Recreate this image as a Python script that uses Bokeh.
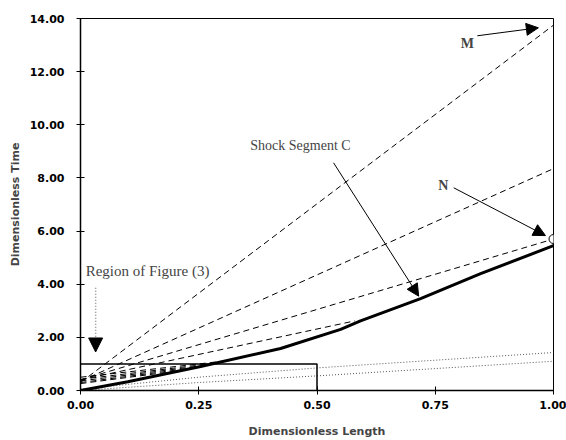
from bokeh.plotting import figure
from bokeh.models import Range1d, FixedTicker, NumeralTickFormatter, Label, Arrow, NormalHead
from bokeh.embed import file_html
from bokeh.resources import INLINE

# ---- data ----
x_ticks = [0.0, 0.25, 0.5, 0.75, 1.0]
y_ticks = [0, 2, 4, 6, 8, 10, 12, 14]

# shock path (thick solid)
shock_x = [0.0, 0.10, 0.254, 0.423, 0.55, 0.592, 0.719, 0.846, 1.0]
shock_y = [0.0, 0.33, 0.90, 1.58, 2.30, 2.62, 3.46, 4.40, 5.45]

# dashed characteristics: start/end points
char_x0 = [0.0, 0.0, 0.0, 0.0, 0.0, 0.0, 0.0, 0.0, 0.0]
char_y0 = [0.30, 0.35, 0.40, 0.40, 0.50, 0.42, 0.36, 0.30, 0.26]
char_x1 = [1.0, 1.0, 1.0, 0.58, 0.31, 0.29, 0.27, 0.25, 0.22]
char_y1 = [13.75, 8.35, 5.70, 2.62, 1.12, 1.04, 0.96, 0.88, 0.77]

# dotted lines
dotA_x = [0.0, 0.25, 0.5, 1.0]
dotA_y = [0.0, 0.30, 0.55, 1.10]
dotB_x = [0.0, 0.25, 0.5, 1.0]
dotB_y = [0.05, 0.50, 0.85, 1.43]

# region box
box_x = [0.0, 0.5, 0.5]
box_y = [1.0, 1.0, 0.0]

# point N
pt_x = [1.0]
pt_y = [5.70]

p = figure(width=566, height=440, x_range=Range1d(0, 1), y_range=Range1d(0, 14),
           output_backend="svg", toolbar_location=None,
           min_border_left=80, min_border_right=13, min_border_top=18, min_border_bottom=50)
p.grid.visible = False
p.outline_line_color = "black"
p.outline_line_width = 1
p.background_fill_color = "white"
p.border_fill_color = "white"

for ax in (p.xaxis, p.yaxis):
    ax.formatter = NumeralTickFormatter(format="0.00")
    ax.major_label_text_font = "DejaVu Sans"
    ax.major_label_text_font_style = "bold"
    ax.major_label_text_font_size = "11px"
    ax.major_label_text_color = "black"
    ax.axis_label_text_font = "DejaVu Sans"
    ax.axis_label_text_font_style = "bold"
    ax.axis_label_text_font_size = "11px"
    ax.axis_line_width = 1.5
    ax.axis_line_color = "black"
    ax.major_tick_in = 4
    ax.major_tick_out = 4
    ax.major_tick_line_color = "black"
    ax.minor_tick_line_color = None

p.xaxis.ticker = FixedTicker(ticks=x_ticks)
p.yaxis.ticker = FixedTicker(ticks=y_ticks)
p.xaxis.axis_label = "Dimensionless Length"
p.yaxis.axis_label = "Dimensionless Time"
p.xaxis.major_label_standoff = 6
p.xaxis.axis_label_standoff = 13
p.yaxis.major_label_standoff = 12
p.yaxis.axis_label_standoff = 5

# dotted lines
p.line(dotA_x, dotA_y, line_color="#555555", line_width=1, line_dash="1 2")
p.line(dotB_x, dotB_y, line_color="#555555", line_width=1, line_dash="1 2")

# dashed characteristics
for i in range(len(char_x0)):
    p.line([char_x0[i], char_x1[i]], [char_y0[i], char_y1[i]],
           line_color="black", line_width=1, line_dash="6 4")

# box
p.line(box_x, box_y, line_color="black", line_width=1.5)

# shock
p.line(shock_x, shock_y, line_color="black", line_width=3)

# point
p.scatter(pt_x, pt_y, marker="circle", size=9, fill_color="white", line_color="black", line_width=1)

# annotations
serif = "Liberation Serif"
p.add_layout(Label(x=0.359, y=9.21, text="Shock Segment C", text_font=serif,
                   text_font_size="14px", text_baseline="middle", text_align="left"))
p.add_layout(Label(x=0.011, y=4.51, text="Region of Figure (3)", text_font=serif,
                   text_font_size="15px", text_baseline="middle", text_align="left"))
p.add_layout(Label(x=0.818, y=13.05, text="M", text_font=serif, text_font_style="bold",
                   text_font_size="14px", text_baseline="middle", text_align="center"))
p.add_layout(Label(x=0.767, y=7.71, text="N", text_font=serif, text_font_style="bold",
                   text_font_size="14px", text_baseline="middle", text_align="center"))

def head(sz):
    return NormalHead(size=sz, fill_color="black", line_color="black")

p.add_layout(Arrow(end=head(12), x_start=0.839, y_start=13.35, x_end=0.968, y_end=13.65,
                   line_width=1, line_color="black"))
p.add_layout(Arrow(end=head(12), x_start=0.789, y_start=7.63, x_end=0.983, y_end=5.83,
                   line_width=1, line_color="black"))
p.add_layout(Arrow(end=head(12), x_start=0.535, y_start=8.57, x_end=0.715, y_end=3.55,
                   line_width=1, line_color="black"))
p.add_layout(Arrow(end=head(14), x_start=0.032, y_start=3.87, x_end=0.032, y_end=1.45,
                   line_width=1.5, line_color="#888888", line_dash="1 2"))

open("out.html", "w").write(file_html(p, INLINE))
